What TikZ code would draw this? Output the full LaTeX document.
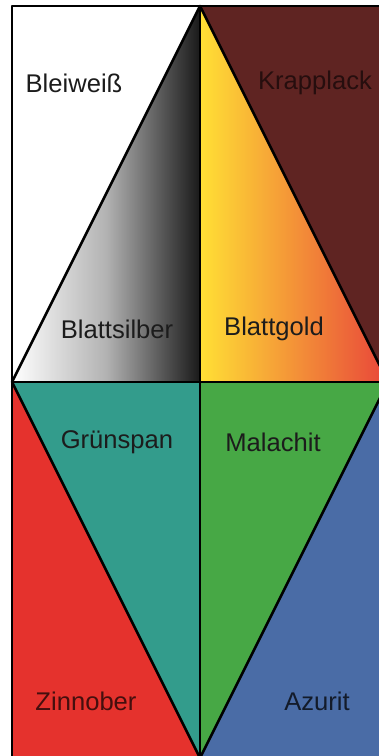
\documentclass[tikz,border=0pt]{standalone}
\usepackage{fontspec}
\setmainfont{Liberation Sans}
\definecolor{krapp}{HTML}{5F2422}
\definecolor{teal2}{HTML}{339C8C}
\definecolor{green2}{HTML}{47A845}
\definecolor{blue2}{HTML}{4A6CA6}
\definecolor{red2}{HTML}{E5322D}
\definecolor{gyellow}{HTML}{FFE035}
\definecolor{gorange}{HTML}{F59A38}
\definecolor{gred}{HTML}{E8453A}
\definecolor{txt}{HTML}{1C1C1C}
\begin{document}
\begin{tikzpicture}[x=0.5pt,y=-0.5pt,
  edge/.style={draw=black,line width=1.3pt,line join=round},
  lbl/.style={font=\fontsize{12.8}{15}\selectfont,text=txt,inner sep=0pt}]
\useasboundingbox (0,0) rectangle (379,756);
% corners
\coordinate (tl) at (12,6);
\coordinate (apex) at (200,6);
\coordinate (tr) at (388,6);
\coordinate (ml) at (12,382);
\coordinate (mc) at (200,382);
\coordinate (mr) at (388,382);
\coordinate (bl) at (12,758);
\coordinate (bot) at (200,758);
\coordinate (br) at (388,758);
% fills
\fill[white] (tl) -- (apex) -- (ml) -- cycle;
\shade[left color=white,right color=black!90,middle color=gray!60] (apex) -- (mc) -- (ml) -- cycle;
\shade[left color=gyellow,middle color=gorange,right color=gred] (apex) -- (mr) -- (mc) -- cycle;
\fill[krapp] (apex) -- (tr) -- (mr) -- cycle;
\fill[red2] (ml) -- (bot) -- (bl) -- cycle;
\fill[teal2] (ml) -- (mc) -- (bot) -- cycle;
\fill[green2] (mc) -- (mr) -- (bot) -- cycle;
\fill[blue2] (mr) -- (br) -- (bot) -- cycle;
% lines
\draw[edge] (tl) rectangle (br);
\draw[edge] (apex) -- (bot);
\draw[edge] (ml) -- (mr);
\draw[edge] (ml) -- (apex) -- (mr);
\draw[edge] (ml) -- (bot) -- (mr);
% labels
\node[lbl] (bleiweiss) at (74,83) {Bleiweiß};
\node[lbl,text=krapp!40!black] (krapplack) at (315,83) {Krapplack};
\node[lbl] (blattsilber) at (117,329) {Blattsilber};
\node[lbl] (blattgold) at (274,329) {Blattgold};
\node[lbl] (gruenspan) at (117,442) {Grünspan};
\node[lbl] (malachit) at (273,442) {Malachit};
\node[lbl,text=red2!30!black] (zinnober) at (86,701) {Zinnober};
\node[lbl,text=blue2!25!black] (azurit) at (317,701) {Azurit};
\end{tikzpicture}
\end{document}
